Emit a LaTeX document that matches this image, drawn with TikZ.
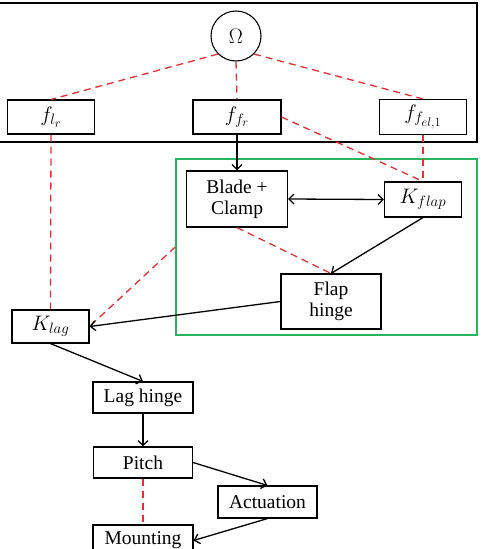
\documentclass[tikz,border=0pt]{standalone}
\usepackage{fix-cm}
\usepackage{fontspec}
\setmainfont{Liberation Serif}
\usetikzlibrary{arrows.meta}
\DeclareMathSizes{19.5}{21}{15}{12.5}
\definecolor{linkred}{RGB}{232,45,45}
\definecolor{grpgreen}{RGB}{40,180,90}
\tikzset{
	blk/.style={draw, line width=1.1pt, rectangle, inner sep=0pt, align=center},
	dep/.style={draw=linkred, line width=1.3pt, dash pattern=on 7pt off 5pt},
	flow/.style={->, line width=1.3pt}
}
\begin{document}
\begin{tikzpicture}[x=1pt, y=-1pt, font=\fontsize{19.5}{21}\selectfont, >={Straight Barb[length=5pt,width=10pt]}]
	\useasboundingbox (0,0) rectangle (481,549);
	\clip (0,0) rectangle (481,549);
	
	\draw[line width=1.4pt] (-5,3) rectangle (477,142);
	\node[draw=grpgreen, line width=1.5pt, minimum width=301pt, minimum height=176pt] (flapgrp) at (326.5,247) {};
	
	\node[circle, draw, line width=1.1pt, minimum size=50pt, inner sep=0pt] (omega) at (236,36) {$\Omega$};
	\node[blk, minimum width=87pt, minimum height=34pt] (flr) at (51,117) {$f_{l_r}$};
	\node[blk, minimum width=88pt, minimum height=34pt] (ffr) at (237,117) {$f_{f_r}$};
	\node[blk, minimum width=87pt, minimum height=35pt] (ffel) at (423,117) {$f_{f_{el,1}}$};
	
	\node[blk, minimum width=101pt, minimum height=56pt] (blade) at (237,199) {Blade +\\Clamp};
	\node[blk, minimum width=77pt, minimum height=35pt] (kflap) at (423,199.5) {$K_{flap}$};
	\node[blk, minimum width=100pt, minimum height=55pt] (flaphinge) at (331,301.5) {Flap\\hinge};
	\node[blk, minimum width=77pt, minimum height=33pt] (klag) at (50.5,326.5) {$K_{lag}$};
	\node[blk, minimum width=100pt, minimum height=31pt] (laghinge) at (143,397.5) {Lag hinge};
	\node[blk, minimum width=99pt, minimum height=31pt] (pitch) at (143,462.5) {Pitch};
	\node[blk, minimum width=99pt, minimum height=32pt] (actuation) at (267.5,502) {Actuation};
	\node[blk, minimum width=100pt, minimum height=31pt] (mounting) at (143,540.5) {Mounting};
	
	\draw[dep] (omega.south west) -- (flr.north);
	\draw[dep] (omega.south) -- (ffr.north);
	\draw[dep] (omega.south east) -- (ffel.north);
	\draw[dep] (ffr.east) -- (kflap.north);
	\draw[dep] (ffel.south) -- (kflap.north);
	\draw[dep] (flr.south) -- (klag.north);
	\draw[dep] (blade.south) -- (flaphinge.north);
	\draw[dep] (flapgrp.west) -- (klag.east);
	\draw[dep] (pitch.south) -- (mounting.north);
	
	\draw[flow] (ffr.south) -- (blade.north);
	\draw[flow, <->] (blade.east) -- (kflap.west);
	\draw[flow] (kflap.south) -- (flaphinge.north);
	\draw[flow] (flaphinge.west) -- (klag.east);
	\draw[flow] (klag.south) -- (laghinge.north);
	\draw[flow] (laghinge.south) -- (pitch.north);
	\draw[flow] (pitch.east) -- (actuation.north);
	\draw[flow] (actuation.south) -- (mounting.east);
\end{tikzpicture}
\end{document}
